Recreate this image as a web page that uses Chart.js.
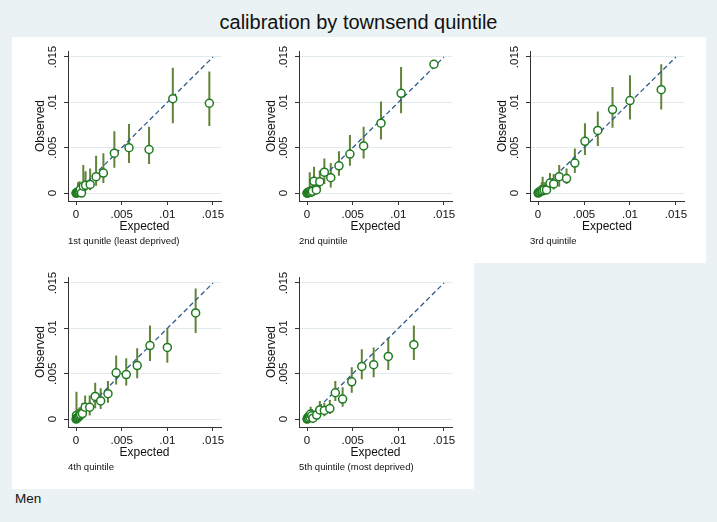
<!DOCTYPE html>
<html>
<head>
<meta charset="utf-8">
<script src="https://cdn.jsdelivr.net/npm/chart.js@4.4.0/dist/chart.umd.min.js"></script>
<style>
  body { margin: 0; background: #eaf2f3; font-family: 'Liberation Sans', Arial, sans-serif; }
  #wrap { position: relative; width: 717px; height: 522px; overflow: hidden; }
  #title { position: absolute; left: 0; top: 12px; width: 717px; text-align: center; font-size: 20px; line-height: 20px; color: #111; }
  #note { position: absolute; left: 15px; top: 491px; font-size: 13.5px; line-height: 16px; color: #111; }
  canvas { position: absolute; background: #fff; }
</style>
</head>
<body>
<div id="wrap">
  <div id="title">calibration by townsend quintile</div>
  <canvas id="q1" width="231" height="226" style="left:12px;top:37px"></canvas>
  <canvas id="q2" width="231" height="226" style="left:243px;top:37px"></canvas>
  <canvas id="q3" width="232" height="226" style="left:474px;top:37px"></canvas>
  <canvas id="q4" width="231" height="226" style="left:12px;top:263px"></canvas>
  <canvas id="q5" width="231" height="226" style="left:243px;top:263px"></canvas>
  <div id="note">Men</div>
</div>
<script>
// axis ticks, shared by every panel
const tickValues = [0, 0.005, 0.01, 0.015];
const tickLabels = ['0', '.005', '.01', '.015'];
const refLine = [0, 0.015];

// 1st quintile (least deprived)
const q1Expected = [0.00001, 0.00004, 0.00008, 0.00015, 0.00022, 0.0003, 0.00038, 0.00048, 0.0006, 0.0008, 0.00105, 0.00155, 0.0022, 0.003, 0.0042, 0.0058, 0.008, 0.0106, 0.0146];
const q1Observed = [0, 0, 0.00005, 0.0001, 0.00008, 0.00015, 0.00025, 0.0004, 0, 0.00075, 0.00085, 0.00095, 0.0018, 0.0022, 0.0044, 0.005, 0.0048, 0.0104, 0.0099];
const q1Lower = [0, 0, 0, 0, 0, 0, 0, 0, 0, 0.0001, 0.0002, 0.0003, 0.0008, 0.0011, 0.0028, 0.0033, 0.0032, 0.0077, 0.0074];
const q1Upper = [0.0001, 0.0002, 0.0004, 0.0006, 0.0012, 0.0009, 0.0013, 0.0011, 0.0011, 0.0031, 0.0024, 0.0027, 0.0041, 0.0044, 0.0068, 0.0076, 0.0073, 0.0138, 0.0134];

// 2nd quintile
const q2Expected = [0.00001, 0.00004, 0.00009, 0.00015, 0.00022, 0.0003, 0.00038, 0.00048, 0.0006, 0.00077, 0.00102, 0.0014, 0.0019, 0.0026, 0.0035, 0.0047, 0.0062, 0.0081, 0.0103, 0.0139];
const q2Observed = [0, 0, 0.00005, 0.0001, 0.00008, 0.00015, 0.0002, 0.0001, 0.0002, 0.0013, 0.00035, 0.00125, 0.0023, 0.0017, 0.003, 0.0043, 0.0052, 0.0077, 0.011, 0.0142];
const q2Lower = [0, 0, 0, 0, 0, 0, 0, 0, 0, 0.0005, 0, 0.0003, 0.001, 0.0006, 0.0019, 0.003, 0.0038, 0.0059, 0.0088, 0.0142];
const q2Upper = [0.0001, 0.0002, 0.0004, 0.0005, 0.0007, 0.0023, 0.0008, 0.0007, 0.001, 0.0029, 0.0012, 0.0025, 0.0038, 0.0033, 0.0046, 0.0064, 0.0073, 0.0101, 0.0139, 0.0142];

// 3rd quintile
const q3Expected = [0.00001, 0.00005, 0.0001, 0.00018, 0.00028, 0.0004, 0.0005, 0.00066, 0.00092, 0.0013, 0.0017, 0.0023, 0.0031, 0.004, 0.0051, 0.0065, 0.0081, 0.01, 0.0134];
const q3Observed = [0, 0.00005, 0.0001, 0.00015, 0.0002, 0.0003, 0.00025, 0.00036, 0.00035, 0.0011, 0.001, 0.0018, 0.0016, 0.0033, 0.0057, 0.0069, 0.0092, 0.0102, 0.0114];
const q3Lower = [0, 0, 0, 0, 0, 0, 0, 0, 0, 0.0003, 0.0004, 0.0007, 0.001, 0.0022, 0.0042, 0.0052, 0.0072, 0.0081, 0.0092];
const q3Upper = [0.0001, 0.0003, 0.0005, 0.0007, 0.0009, 0.0012, 0.0018, 0.0012, 0.0011, 0.0022, 0.0021, 0.0031, 0.0027, 0.0049, 0.0077, 0.009, 0.0117, 0.013, 0.0142];

// 4th quintile
const q4Expected = [0.00001, 0.00005, 0.0001, 0.00016, 0.00024, 0.00032, 0.0004, 0.0005, 0.0007, 0.001, 0.0015, 0.0021, 0.0027, 0.0035, 0.0044, 0.0055, 0.0067, 0.0081, 0.01, 0.0131];
const q4Observed = [0, 0.0004, 0.0001, 0.00015, 0.0002, 0.0003, 0.0004, 0.0005, 0.0006, 0.0013, 0.0013, 0.0025, 0.002, 0.0028, 0.0051, 0.0049, 0.0059, 0.0081, 0.0079, 0.0117];
const q4Lower = [0, 0, 0, 0, 0, 0, 0, 0, 0.0001, 0.0003, 0.0004, 0.0012, 0.0011, 0.0018, 0.0038, 0.0037, 0.0045, 0.0064, 0.0062, 0.0095];
const q4Upper = [0.0001, 0.003, 0.0006, 0.0009, 0.0011, 0.0012, 0.0013, 0.0013, 0.0018, 0.0026, 0.0026, 0.004, 0.0034, 0.0042, 0.007, 0.0067, 0.0078, 0.0103, 0.01, 0.0144];

// 5th quintile (most deprived)
const q5Expected = [0.00001, 0.00005, 0.0001, 0.00018, 0.00025, 0.00033, 0.0004, 0.00052, 0.00065, 0.00106, 0.0014, 0.0019, 0.0025, 0.0031, 0.0039, 0.0049, 0.006, 0.0073, 0.0089, 0.0117];
const q5Observed = [0, 0.00005, 0.0002, 0.00012, 0.00036, 0.0002, 0.00055, 0.00036, 0.0001, 0.00044, 0.001, 0.00095, 0.00115, 0.0029, 0.0022, 0.0041, 0.0058, 0.006, 0.0069, 0.0082];
const q5Lower = [0, 0, 0, 0, 0, 0, 0, 0, 0, 0, 0.0004, 0.0003, 0.00055, 0.002, 0.00135, 0.0029, 0.0044, 0.0046, 0.0054, 0.0065];
const q5Upper = [0.0001, 0.0003, 0.0008, 0.0006, 0.001, 0.0008, 0.00135, 0.0011, 0.0007, 0.0012, 0.002, 0.0018, 0.0021, 0.0042, 0.0035, 0.0057, 0.0077, 0.0079, 0.009, 0.0103];

const markerColor = '#1f7a1f';
const barColor = '#62843a';
const diagColor = '#2f5c8c';
const gridColor = '#e1eaed';
const axisColor = '#333';
const textColor = '#111';

Chart.defaults.font.family = "'Liberation Sans', Arial, sans-serif";

function setTicks(scale) {
    scale.ticks = tickValues.map(v => ({ value: v }));
}

function makePanel(id, expected, observed, lower, upper, caption) {
    const points = expected.map((x, i) => ({ x: x, y: observed[i] }));
    // each error bar is two points followed by a gap
    const bars = [];
    expected.forEach((x, i) => {
        bars.push({ x: x, y: lower[i] }, { x: x, y: upper[i] }, { x: x, y: null });
    });
    const diag = refLine.map(v => ({ x: v, y: v }));

    new Chart(document.getElementById(id), {
        type: 'scatter',
        data: {
            datasets: [
                {
                    data: points,
                    pointStyle: 'circle',
                    pointRadius: 4,
                    pointBorderWidth: 1.5,
                    pointBorderColor: markerColor,
                    pointBackgroundColor: '#fff'
                },
                {
                    type: 'line',
                    data: diag,
                    borderColor: diagColor,
                    borderWidth: 1.3,
                    borderDash: [5, 3],
                    pointRadius: 0,
                    fill: false
                },
                {
                    type: 'line',
                    data: bars,
                    borderColor: barColor,
                    borderWidth: 2,
                    pointRadius: 0,
                    spanGaps: false,
                    fill: false
                }
            ]
        },
        options: {
            responsive: false,
            animation: false,
            events: [],
            layout: { padding: { left: 0, top: 14, right: 22, bottom: 0 } },
            plugins: {
                legend: { display: false },
                tooltip: { enabled: false },
                title: {
                    display: true,
                    text: caption,
                    position: 'bottom',
                    align: 'start',
                    fullSize: false,
                    color: textColor,
                    font: { size: 9.5, weight: 'normal', lineHeight: 1.2 },
                    padding: { top: 2, bottom: 15.6 }
                }
            },
            scales: {
                x: {
                    type: 'linear',
                    min: -0.000876,
                    max: 0.015876,
                    afterFit: s => { s.height = 33; },
                    afterBuildTicks: setTicks,
                    ticks: {
                        callback: (v, i) => tickLabels[i],
                        color: textColor,
                        font: { size: 11.5 },
                        padding: 3,
                        maxRotation: 0,
                        autoSkip: false
                    },
                    grid: { drawOnChartArea: false, tickLength: 4, tickColor: axisColor },
                    border: { color: axisColor, width: 1 },
                    title: {
                        display: true,
                        text: 'Expected',
                        color: textColor,
                        font: { size: 12 },
                        padding: { top: 0, bottom: 0 }
                    }
                },
                y: {
                    type: 'linear',
                    min: -0.000876,
                    max: 0.01566,
                    afterFit: s => { s.width = 56; },
                    afterBuildTicks: setTicks,
                    ticks: {
                        callback: (v, i) => tickLabels[i],
                        color: textColor,
                        font: { size: 11.5 },
                        padding: 0,
                        minRotation: 90,
                        maxRotation: 90,
                        crossAlign: 'center',
                        autoSkip: false
                    },
                    grid: { color: gridColor, lineWidth: 1, tickLength: 4, tickColor: axisColor },
                    border: { color: axisColor, width: 1 },
                    title: {
                        display: true,
                        text: 'Observed',
                        color: textColor,
                        font: { size: 12 },
                        padding: { top: 21, bottom: 0 }
                    }
                }
            }
        }
    });
}

makePanel('q1', q1Expected, q1Observed, q1Lower, q1Upper, '1st qunitle (least deprived)');
makePanel('q2', q2Expected, q2Observed, q2Lower, q2Upper, '2nd quintile');
makePanel('q3', q3Expected, q3Observed, q3Lower, q3Upper, '3rd quintile');
makePanel('q4', q4Expected, q4Observed, q4Lower, q4Upper, '4th quintile');
makePanel('q5', q5Expected, q5Observed, q5Lower, q5Upper, '5th quintile (most deprived)');
</script>
</body>
</html>
